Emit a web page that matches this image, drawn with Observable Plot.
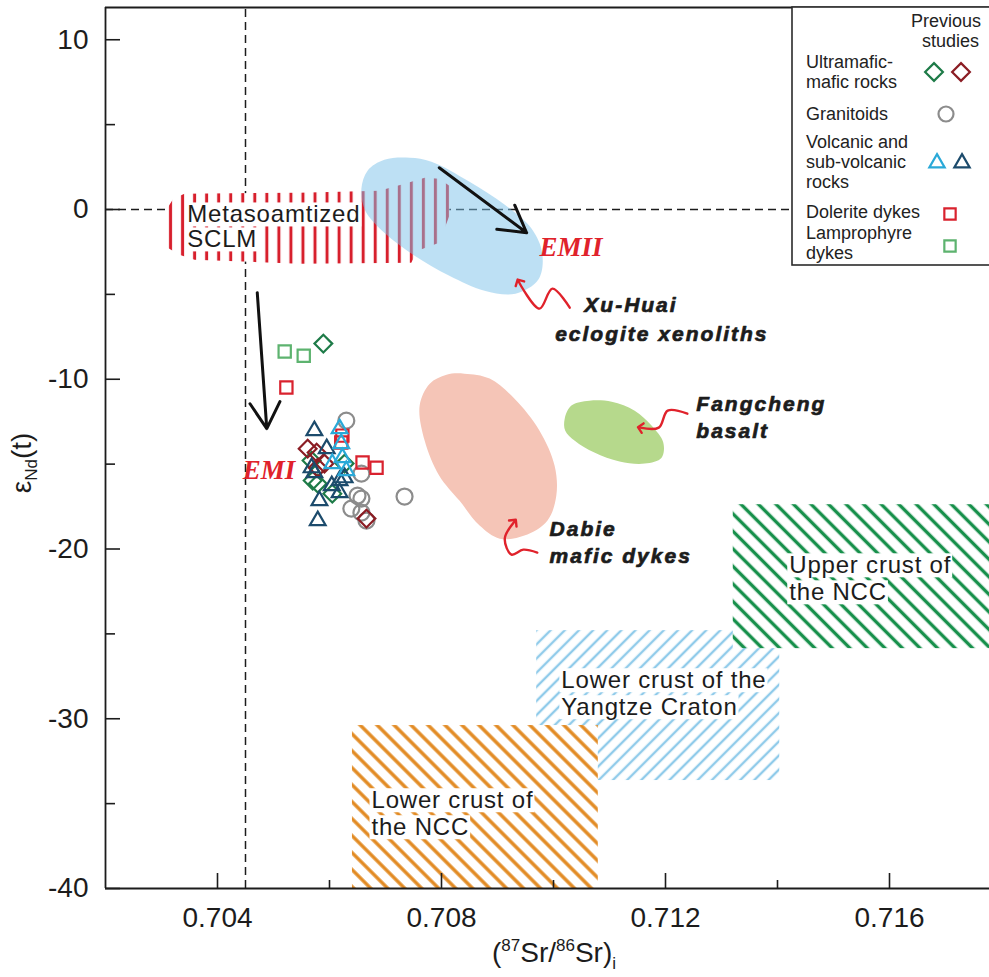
<!DOCTYPE html>
<html>
<head>
<meta charset="utf-8">
<script src="https://cdn.jsdelivr.net/npm/d3@7"></script>
<script src="https://cdn.jsdelivr.net/npm/@observablehq/plot@0.6"></script>
<style>
  html, body { margin: 0; padding: 0; background: #fff; overflow: hidden; }
  #chart svg { display: block; overflow: hidden; }
</style>
</head>
<body>
<div id="chart"></div>
<script>
// ---------- axes ----------
const xTicksMajor = [0.704, 0.708, 0.712, 0.716];
const xTicksMinor = [0.706, 0.710, 0.714];
const yTicksMajor = [10, 0, -10, -20, -30, -40];
const yTicksMinor = [5, -5, -15, -25, -35];
const bulkEarthSr = 0.7045;   // vertical reference line
const chondriteNd = 0;        // horizontal reference line

// ---------- previous studies: [87Sr/86Sr(i), eNd(t)] ----------
const ultramaficGreen = [[0.70589, -7.90], [0.70570, -15.97], [0.70579, -16.15], [0.70605, -16.74], [0.70627, -14.97], [0.70568, -14.79]];
const ultramaficRed   = [[0.70561, -14.09], [0.70577, -14.32], [0.70579, -15.21], [0.70591, -14.97], [0.70666, -18.21]];
const granitoids      = [[0.70630, -12.44], [0.70657, -15.56], [0.70734, -16.91], [0.70650, -16.86], [0.70657, -17.03], [0.70639, -17.62], [0.70657, -17.86], [0.70666, -18.33]];
const volcanicCyan    = [[0.70618, -12.91], [0.70621, -13.79], [0.70623, -14.62], [0.70605, -14.97], [0.70630, -15.38]];
const volcanicBlue    = [[0.70573, -13.03], [0.70595, -14.09], [0.70568, -15.21], [0.70582, -17.15], [0.70579, -18.33], [0.70618, -15.97], [0.70618, -16.68], [0.70627, -15.80], [0.70604, -16.27], [0.70573, -15.50]];
const doleriteDykes   = [[0.70523, -10.49], [0.70623, -13.32], [0.70621, -13.73], [0.70659, -14.91], [0.70684, -15.21]];
const lamprophyres    = [[0.70520, -8.37], [0.70554, -8.61]];

// ---------- source fields (outline vertices) ----------
const sclmOutline = [[0.70311, 0.11], [0.70321, 0.64], [0.70341, 0.93], [0.70546, 0.99], [0.70689, 1.11], [0.70734, 1.52], [0.70770, 1.87], [0.70796, 1.81], [0.70814, 1.40], [0.70814, -0.37], [0.70796, -1.96], [0.70757, -2.43], [0.70746, -3.13], [0.70546, -3.19], [0.70359, -2.96], [0.70332, -2.66], [0.70311, -2.25]];
const xuHuaiOutline = [[0.70657, 1.23], [0.70668, 2.29], [0.70698, 2.93], [0.70743, 3.05], [0.70782, 2.82], [0.70850, 1.64], [0.70913, 0.28], [0.70961, -1.13], [0.70980, -2.60], [0.70973, -4.13], [0.70932, -4.96], [0.70877, -4.78], [0.70814, -3.90], [0.70752, -2.72], [0.70698, -1.37], [0.70664, -0.07]];
const dabieOutline = [[0.70841, -9.67], [0.70886, -9.96], [0.70930, -11.14], [0.70975, -13.03], [0.71002, -15.09], [0.71005, -16.86], [0.70989, -18.33], [0.70948, -19.21], [0.70904, -19.39], [0.70868, -18.62], [0.70832, -17.15], [0.70796, -15.68], [0.70770, -13.62], [0.70761, -11.55], [0.70779, -10.26], [0.70809, -9.73]];
const fangchengOutline = [[0.71020, -12.32], [0.71032, -11.55], [0.71064, -11.26], [0.71104, -11.32], [0.71145, -11.85], [0.71175, -12.73], [0.71196, -13.73], [0.71193, -14.62], [0.71163, -14.97], [0.71118, -14.85], [0.71073, -14.32], [0.71038, -13.62], [0.71021, -13.03]];

// crustal reservoirs: [Sr min, Sr max, Nd min, Nd max]
const yangtzeLowerCrust = [[0.70970, 0.71404, -33.64, -24.81]];
const nccUpperCrust     = [[0.71321, 0.71800, -25.87, -17.39]];
const nccLowerCrust     = [[0.70641, 0.71080, -40.00, -30.40]];

// ---------- arrows ----------
const mixingArrows = [[0.70796, 2.46, 0.70952, -1.37], [0.70471, -4.90, 0.70488, -12.91]];
const xuHuaiPointer = [[0.71029, -5.78], [0.70998, -4.66], [0.70975, -5.84], [0.70938, -4.25]];
const fangchengPointer = [[0.71239, -12.03], [0.71204, -11.85], [0.71188, -12.85], [0.71155, -12.85]];
const dabiePointer = [[0.70971, -20.21], [0.70946, -20.04], [0.70925, -20.33], [0.70913, -19.39], [0.70930, -18.39]];

// ---------- labels ----------
const boxedLabels = [
  [0.70346, -0.31, "Metasoamtized"], [0.70346, -1.78, "SCLM"],
  [0.71421, -20.98, "Upper crust of"], [0.71421, -22.57, "the NCC"],
  [0.71014, -27.75, "Lower crust of the"], [0.71014, -29.34, "Yangtze Craton"],
  [0.70675, -34.82, "Lower crust of"], [0.70675, -36.41, "the NCC"]
];
const fieldLabels = [
  [0.71055, -5.67, "Xu-Huai"], [0.71003, -7.37, "eclogite xenoliths"],
  [0.71255, -11.50, "Fangcheng"], [0.71255, -13.09, "basalt"],
  [0.70993, -18.86, "Dabie"], [0.70993, -20.45, "mafic dykes"]
];
const endMemberLabels = [[0.70975, -2.25, "EMII"], [0.70445, -15.38, "EMI"]];

// ---------- look ----------
const ink = "#1c1c1c";
const sans = "'Liberation Sans', Arial, Helvetica, sans-serif";
const col = {
  umGreen: "#1e7b48", umRed: "#8b1d24", granite: "#8c8c8c",
  volcCyan: "#2aa9d8", volcBlue: "#1c4b6c", dolerite: "#d9222e", lamp: "#5db36f",
  red: "#e0222b"
};
const px = d => d[0], py = d => d[1];

const chart = Plot.plot({
  width: 989,
  height: 977,
  marginLeft: 105, marginRight: 0, marginTop: 7, marginBottom: 89,
  x: {domain: [0.702, 0.718], range: [105, 1001]},
  y: {domain: [-40, 11.9], range: [888, 7]},
  style: {fontFamily: sans, background: "#fff", color: ink},
  marks: [
    // reference lines
    Plot.ruleY([chondriteNd], {y: d => d, x1: 0.702, x2: 0.718, stroke: ink, strokeWidth: 1.5, strokeDasharray: "8,5"}),
    Plot.ruleX([bulkEarthSr], {x: d => d, y1: -40, y2: 11.9, stroke: ink, strokeWidth: 1.5, strokeDasharray: "8,5"}),

    // source fields
    Plot.line(sclmOutline, {x: px, y: py, curve: "linear-closed", fill: "url(#sclm-hatch)", stroke: "none"}),
    Plot.line(xuHuaiOutline, {x: px, y: py, curve: "catmull-rom-closed", fill: "#7bc1e9", fillOpacity: 0.5, stroke: "none"}),
    Plot.line(dabieOutline, {x: px, y: py, curve: "catmull-rom-closed", fill: "#f5c5b7", stroke: "none"}),
    Plot.line(fangchengOutline, {x: px, y: py, curve: "catmull-rom-closed", fill: "#b6d98c", stroke: "none"}),

    // crustal reservoirs
    Plot.rect(yangtzeLowerCrust, {x1: d => d[0], x2: d => d[1], y1: d => d[2], y2: d => d[3], fill: "url(#hatch-blue)"}),
    Plot.rect(nccUpperCrust, {x1: d => d[0], x2: d => d[1], y1: d => d[2], y2: d => d[3], fill: "url(#hatch-green)"}),
    Plot.rect(nccLowerCrust, {x1: d => d[0], x2: d => d[1], y1: d => d[2], y2: d => d[3], fill: "url(#hatch-orange)"}),

    // labels
    Plot.text(boxedLabels, {x: px, y: py, text: d => d[2], textAnchor: "start", fontSize: 24, fill: ink}),
    Plot.text(fieldLabels, {x: px, y: py, text: d => d[2], textAnchor: "start", fontSize: 21, fontWeight: "bold", fontStyle: "italic",
      fill: ink, stroke: ink, strokeWidth: 0.7}),
    Plot.text(endMemberLabels, {x: px, y: py, text: d => d[2], textAnchor: "start", fontSize: 27, fontWeight: "bold", fontStyle: "italic",
      fontFamily: "'Liberation Serif', 'Times New Roman', serif", fill: col.red}),

    // arrows
    Plot.arrow(mixingArrows, {x1: d => d[0], y1: d => d[1], x2: d => d[2], y2: d => d[3], stroke: "#111", strokeWidth: 3, headLength: 15, headAngle: 60}),
    Plot.line(xuHuaiPointer, {x: px, y: py, curve: "catmull-rom", stroke: col.red, strokeWidth: 2.4, markerEnd: "arrow"}),
    Plot.line(fangchengPointer, {x: px, y: py, curve: "catmull-rom", stroke: col.red, strokeWidth: 2.4, markerEnd: "arrow"}),
    Plot.line(dabiePointer, {x: px, y: py, curve: "catmull-rom", stroke: col.red, strokeWidth: 2.4, markerEnd: "arrow"}),

    // previous studies
    Plot.dot(granitoids, {x: px, y: py, symbol: "circle", r: 8, fill: "none", stroke: col.granite, strokeWidth: 2.2}),
    Plot.dot(doleriteDykes, {x: px, y: py, symbol: "square2", r: 7.8, fill: "none", stroke: col.dolerite, strokeWidth: 2.2}),
    Plot.dot(lamprophyres, {x: px, y: py, symbol: "square2", r: 7.8, fill: "none", stroke: col.lamp, strokeWidth: 2.2}),
    Plot.dot(ultramaficGreen, {x: px, y: py, symbol: "diamond2", r: 8, fill: "none", stroke: col.umGreen, strokeWidth: 2.2}),
    Plot.dot(ultramaficRed, {x: px, y: py, symbol: "diamond2", r: 8, fill: "none", stroke: col.umRed, strokeWidth: 2.2}),
    Plot.dot(volcanicBlue, {x: px, y: py, symbol: "triangle2", r: 7.5, fill: "none", stroke: col.volcBlue, strokeWidth: 2.2}),
    Plot.dot(volcanicCyan, {x: px, y: py, symbol: "triangle2", r: 7.5, fill: "none", stroke: col.volcCyan, strokeWidth: 2.2}),

    // frame and inward ticks
    Plot.ruleX([0.702], {x: d => d, y1: -40, y2: 11.9, stroke: ink, strokeWidth: 1.8}),
    Plot.ruleY([-40, 11.9], {y: d => d, x1: 0.702, x2: 0.718, stroke: ink, strokeWidth: 1.8}),
    Plot.ruleX(xTicksMajor, {x: d => d, y1: -40, y2: -40, insetBottom: 15, stroke: ink, strokeWidth: 1.6}),
    Plot.ruleX(xTicksMinor, {x: d => d, y1: -40, y2: -40, insetBottom: 8, stroke: ink, strokeWidth: 1.6}),
    Plot.ruleY(yTicksMajor, {y: d => d, x1: 0.702, x2: 0.702, insetRight: -15, stroke: ink, strokeWidth: 1.6}),
    Plot.ruleY(yTicksMinor, {y: d => d, x1: 0.702, x2: 0.702, insetRight: -10, stroke: ink, strokeWidth: 1.6}),
    Plot.axisX({ticks: xTicksMajor, tickSize: 0, tickPadding: 19, fontSize: 28, tickFormat: d => d.toFixed(3), label: null}),
    Plot.axisY({ticks: yTicksMajor, tickSize: 0, tickPadding: 17, fontSize: 28, tickFormat: d => String(d), label: null})
  ]
});

document.getElementById("chart").append(chart);
const svg = d3.select(chart);

// hatch patterns (white ground + stripes)
const defs = svg.insert("defs", ":first-child");
function hatch(id, color, lineWidth, spacing, angle, x0 = 0) {
  const p = defs.append("pattern")
    .attr("id", id).attr("patternUnits", "userSpaceOnUse")
    .attr("x", x0).attr("width", spacing).attr("height", spacing)
    .attr("patternTransform", `rotate(${angle})`);
  p.append("rect").attr("width", spacing).attr("height", spacing).attr("fill", "#fff");
  p.append("rect").attr("x", (spacing - lineWidth) / 2).attr("width", lineWidth).attr("height", spacing).attr("fill", color);
}
hatch("sclm-hatch", "#d71f2c", 3, 12.04, 0, 164);
hatch("hatch-orange", "#e28a22", 3.4, 12, -45);
hatch("hatch-green", "#17904b", 3.4, 12.4, -45);
hatch("hatch-blue", "#90cbea", 2.4, 10, 45);

// spacing and white backing boxes for labels
const boxedSet = new Set(boxedLabels.map(d => d[2]));
const fieldSet = new Set(fieldLabels.map(d => d[2]));
svg.selectAll("text").each(function () {
  if (boxedSet.has(this.textContent)) d3.select(this).style("letter-spacing", "0.8px");
  if (fieldSet.has(this.textContent)) d3.select(this).style("letter-spacing", "2px");
});
const boxed = [];
svg.selectAll("text").each(function () { if (boxedSet.has(this.textContent)) boxed.push(this); });
boxed.forEach(node => {
  const b = node.getBBox();
  d3.select(node.parentNode).insert("rect", ":first-child")
    .attr("x", b.x - 2).attr("y", b.y + 2)
    .attr("width", b.width + 3).attr("height", b.height - 3)
    .attr("transform", node.getAttribute("transform"))
    .attr("fill", "#fff");
});

// axis titles
const xt = svg.append("text").attr("x", 554).attr("y", 962).attr("text-anchor", "middle")
  .attr("font-size", 28).attr("fill", ink);
xt.append("tspan").text("(");
xt.append("tspan").attr("font-size", 17).attr("dy", -11).text("87");
xt.append("tspan").attr("dy", 11).text("Sr/");
xt.append("tspan").attr("font-size", 17).attr("dy", -11).text("86");
xt.append("tspan").attr("dy", 11).text("Sr)");
xt.append("tspan").attr("font-size", 17).attr("dy", 7).text("i");

const yt = svg.append("text").attr("transform", "translate(31,463) rotate(-90)").attr("text-anchor", "middle")
  .attr("font-size", 28).attr("fill", ink);
yt.append("tspan").text("ε");
yt.append("tspan").attr("font-size", 17).attr("dy", 6).text("Nd");
yt.append("tspan").attr("dy", -6).text("(t)");

// legend
const legendEntries = [
  {lines: ["Ultramafic-", "mafic rocks"], ys: [62, 82], symbols: [[d3.symbolDiamond2, col.umGreen, 934, 72, 8], [d3.symbolDiamond2, col.umRed, 961, 72, 8]]},
  {lines: ["Granitoids"], ys: [114], symbols: [[d3.symbolCircle, col.granite, 946, 114, 7.5]]},
  {lines: ["Volcanic and", "sub-volcanic", "rocks"], ys: [142, 162, 182], symbols: [[d3.symbolTriangle2, col.volcCyan, 937, 163, 7.3], [d3.symbolTriangle2, col.volcBlue, 962, 163, 7.3]]},
  {lines: ["Dolerite dykes"], ys: [212], symbols: [[d3.symbolSquare2, col.dolerite, 950, 214, 7.2]]},
  {lines: ["Lamprophyre", "dykes"], ys: [233, 253], symbols: [[d3.symbolSquare2, col.lamp, 950, 246, 7.2]]}
];
const lg = svg.append("g").attr("font-family", sans).attr("font-size", 18).attr("fill", "#222").attr("text-anchor", "start");
lg.append("rect").attr("x", 792).attr("y", 7).attr("width", 215).attr("height", 258)
  .attr("fill", "#fff").attr("stroke", "#2b2b2b").attr("stroke-width", 1.6);
lg.append("text").attr("x", 981).attr("y", 21).attr("dy", "0.35em").attr("text-anchor", "end").text("Previous");
lg.append("text").attr("x", 979).attr("y", 41).attr("dy", "0.35em").attr("text-anchor", "end").text("studies");
legendEntries.forEach(e => {
  e.lines.forEach((t, i) => lg.append("text").attr("x", 806).attr("y", e.ys[i]).attr("dy", "0.35em").attr("text-anchor", "start").text(t));
  e.symbols.forEach(([type, color, sx, sy, r]) => {
    lg.append("path").attr("d", d3.symbol(type, Math.PI * r * r)()).attr("transform", `translate(${sx},${sy})`)
      .attr("fill", "none").attr("stroke", color).attr("stroke-width", 2.2);
  });
});
</script>
</body>
</html>
